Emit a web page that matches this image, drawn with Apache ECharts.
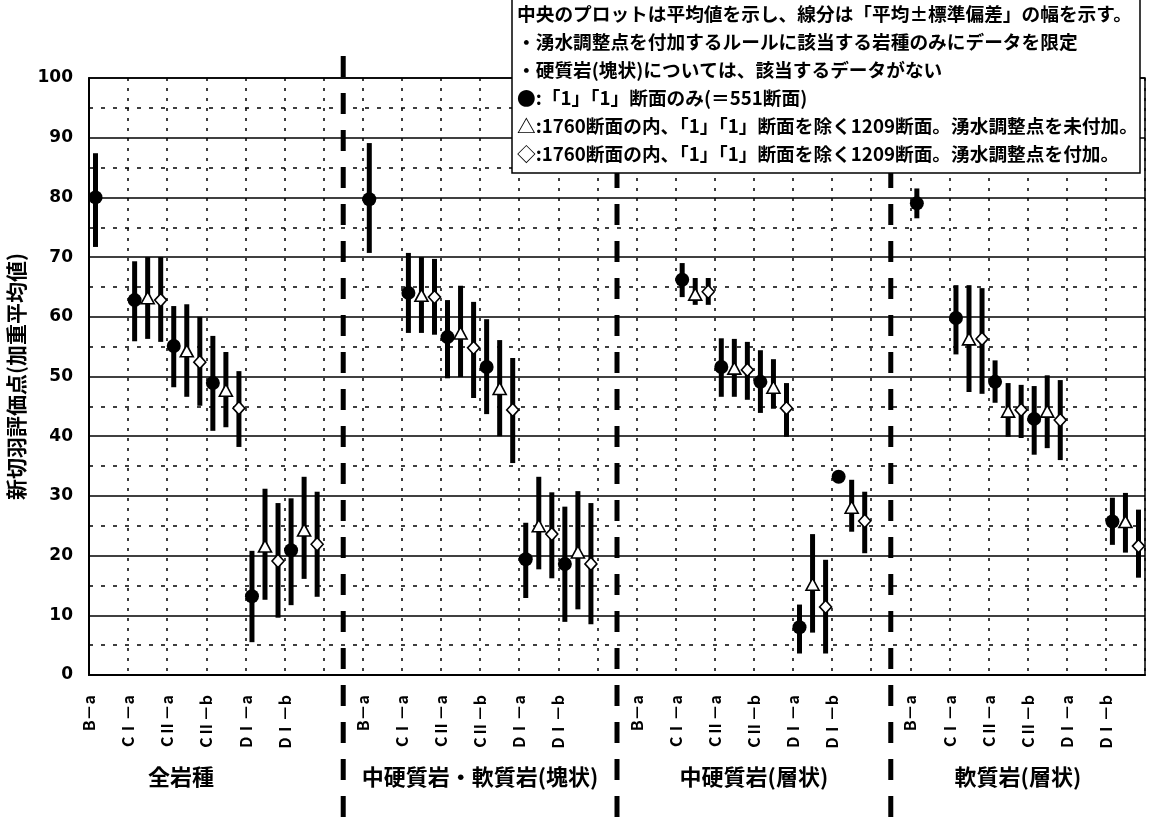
<!DOCTYPE html>
<html><head><meta charset="utf-8">
<script src="https://cdn.jsdelivr.net/npm/echarts@6/dist/echarts.min.js"></script>
<style>html,body{margin:0;padding:0;background:#fff}#c{width:1152px;height:817px}</style>
</head><body><div id="c"></div>
<script>
// ---------- data ----------
const categories = ['B－a', 'CⅠ－a', 'CⅡ－a', 'CⅡ－b', 'DⅠ－a', 'DⅠ－b'];
const groups = ['全岩種', '中硬質岩・軟質岩(塊状)', '中硬質岩(層状)', '軟質岩(層状)'];
const yAxisName = '新切羽評価点(加重平均値)';

// ● 「1」「1」断面のみ  (rows = groups, cols = categories; null = no data)
const circleMean = [
  [80.0, 62.8, 55.1, 48.9, 13.2, 20.9],
  [79.7, 64.0, 56.6, 51.6, 19.4, 18.6],
  [null, 66.2, 51.6, 49.1, 8.0, 33.2],
  [79.0, 59.8, 49.1, 42.9, null, 25.7]
];
const circleLow = [
  [71.7, 55.9, 48.2, 40.9, 5.5, 11.7],
  [70.7, 57.3, 49.7, 43.7, 12.9, 8.9],
  [null, 63.3, 46.6, 43.9, 3.6, 32.8],
  [76.5, 53.7, 45.6, 36.9, null, 21.8]
];
const circleHigh = [
  [87.4, 69.3, 61.8, 56.8, 20.8, 29.6],
  [89.1, 70.7, 62.8, 59.6, 25.5, 28.2],
  [null, 69.0, 56.4, 54.4, 11.8, 33.6],
  [81.5, 65.3, 52.7, 48.4, null, 29.7]
];
// △ 湧水調整点を未付加
const triMean = [
  [null, 63.2, 54.3, 47.7, 21.6, 24.3],
  [null, 63.6, 57.3, 48.0, 25.0, 20.6],
  [null, 63.8, 51.4, 48.2, 15.2, 28.1],
  [null, 56.3, 44.2, 44.2, null, 25.7]
];
const triLow = [
  [null, 56.3, 46.6, 41.5, 12.6, 16.1],
  [null, 57.3, 49.9, 40.0, 17.7, 11.0],
  [null, 62.0, 46.6, 44.6, 7.1, 24.0],
  [null, 47.4, 39.9, 38.0, null, 20.5]
];
const triHigh = [
  [null, 70.0, 62.1, 54.1, 31.2, 33.2],
  [null, 70.0, 65.2, 56.1, 33.2, 30.8],
  [null, 66.5, 56.3, 52.9, 23.6, 32.7],
  [null, 65.3, 48.9, 50.2, null, 30.5]
];
// ◇ 湧水調整点を付加
const diaMean = [
  [null, 62.8, 52.4, 44.7, 19.1, 21.9],
  [null, 63.3, 54.8, 44.4, 23.6, 18.6],
  [null, 64.2, 51.1, 44.7, 11.4, 25.8],
  [null, 56.3, 44.4, 42.7, null, 21.6]
];
const diaLow = [
  [null, 55.8, 45.1, 38.2, 9.6, 13.1],
  [null, 57.0, 46.4, 35.5, 16.2, 8.5],
  [null, 62.0, 46.1, 39.9, 3.6, 20.4],
  [null, 47.1, 39.7, 36.0, null, 16.3]
];
const diaHigh = [
  [null, 70.0, 60.0, 50.9, 28.8, 30.7],
  [null, 69.7, 62.5, 53.1, 30.6, 28.8],
  [null, 66.5, 55.8, 48.9, 19.3, 30.7],
  [null, 64.8, 48.6, 49.4, null, 27.7]
];
const noteLines = [
  '中央のプロットは平均値を示し、線分は「平均±標準偏差」の幅を示す。',
  '・湧水調整点を付加するルールに該当する岩種のみにデータを限定',
  '・硬質岩(塊状)については、該当するデータがない',
  '●:「1」「1」断面のみ(＝551断面)',
  '△:1760断面の内、「1」「1」断面を除く1209断面。湧水調整点を未付加。',
  '◇:1760断面の内、「1」「1」断面を除く1209断面。湧水調整点を付加。'
];

// ---------- layout ----------
const SLOTS = 7;                       // slots per group (6 categories + gap)
const xMax = groups.length * SLOTS - 1; // 27
const offsets = [1 / 6, 1 / 2, 5 / 6];  // series offset inside a slot
const groupLabelPos = [2.35, 10, 17, 23.75];
const JP = '"Noto Sans CJK JP", "Noto Sans CJK SC", sans-serif';

function build(mean, low, high, s) {
  const pts = [], bars = [];
  mean.forEach((row, g) => row.forEach((m, c) => {
    if (m == null) return;
    const x = g * SLOTS + c + offsets[s];
    pts.push([x, m]);
    bars.push([x, low[g][c], high[g][c]]);
  }));
  return { pts, bars };
}
const S = [
  build(circleMean, circleLow, circleHigh, 0),
  build(triMean, triLow, triHigh, 1),
  build(diaMean, diaLow, diaHigh, 2)
];
const markers = [
  { symbol: 'circle', size: 14, fill: '#000' },
  { symbol: 'triangle', size: [13, 12], fill: '#fff' },
  { symbol: 'diamond', size: [12, 13], fill: '#fff' }
];

function errRender(params, api) {
  const x = api.value(0);
  const p1 = api.coord([x, api.value(1)]);
  const p2 = api.coord([x, api.value(2)]);
  return { type: 'line', shape: { x1: p1[0], y1: p1[1], x2: p2[0], y2: p2[1] },
           style: { stroke: '#000', lineWidth: 5 } };
}

const series = [];
S.forEach((d, i) => {
  series.push({ type: 'custom', renderItem: errRender, data: d.bars, z: 3 + i * 2,
                encode: { x: 0, y: [1, 2] }, silent: true });
  series.push({ type: 'scatter', data: d.pts, symbol: markers[i].symbol,
                symbolSize: markers[i].size, z: 4 + i * 2, silent: true,
                itemStyle: { color: markers[i].fill, borderColor: '#000', borderWidth: i ? 1.6 : 0, opacity: 1 } });
});

const chart = echarts.init(document.getElementById('c'));
chart.setOption({
  animation: false,
  backgroundColor: '#fff',
  grid: { left: 89, right: 7, top: 78, bottom: 142, containLabel: false, outerBoundsMode: 'none',
          show: true, borderColor: '#000', borderWidth: 1.5, backgroundColor: 'transparent' },
  xAxis: {
    type: 'value', min: 0, max: xMax, interval: 1,
    axisLine: { show: true, lineStyle: { color: '#000', width: 2 } },
    axisTick: { show: false },
    splitLine: { show: true, lineStyle: { color: '#000', width: 1.5, type: [3, 7] } },
    axisLabel: {
      rotate: 90, margin: 20, color: '#000', fontFamily: JP, fontWeight: 'bold', fontSize: 16,
      formatter: v => { const g = Math.floor(v / SLOTS), c = v % SLOTS; return (g < groups.length && c < categories.length) ? categories[c] : ''; }
    }
  },
  yAxis: {
    type: 'value', min: 0, max: 100, interval: 10,
    name: yAxisName, nameLocation: 'middle', nameGap: 40, nameRotate: 90,
    nameTextStyle: { fontFamily: JP, fontWeight: 'bold', fontSize: 21, color: '#000' },
    axisLine: { show: true, lineStyle: { color: '#000', width: 2 } },
    axisTick: { show: false },
    axisLabel: { margin: 16, color: '#000', fontFamily: 'DejaVu Sans', fontWeight: 'bold', fontSize: 17 },
    splitLine: { show: true, lineStyle: { color: '#000', width: 1.6 } },
    minorTick: { show: false, splitNumber: 2 },
    minorSplitLine: { show: true, lineStyle: { color: '#000', width: 1.5, type: [4, 8] } }
  },
  series
});

// separators, group labels, note box
const g = [];
for (let k = 1; k < groups.length; k++) {
  const px = chart.convertToPixel({ xAxisIndex: 0 }, k * SLOTS - 0.5);
  g.push({ type: 'line', z: 20, shape: { x1: px, y1: 56, x2: px, y2: 830 },
           style: { stroke: '#000', lineWidth: 5, lineDash: [21, 16] } });
}
groups.forEach((name, i) => {
  const px = chart.convertToPixel({ xAxisIndex: 0 }, groupLabelPos[i]);
  g.push({ type: 'text', z: 20, x: px, y: 777,
           style: { text: name, font: 'bold 22px ' + JP, fill: '#000', textAlign: 'center', textVerticalAlign: 'middle' } });
});
g.push({ type: 'rect', z: 30, shape: { x: 512, y: -2, width: 628, height: 175 },
         style: { fill: '#fff', stroke: '#000', lineWidth: 1.5 } });
noteLines.forEach((t, i) => {
  g.push({ type: 'text', z: 31, x: 517, y: 14 + i * 28,
           style: { text: t, font: 'bold 18.7px ' + JP, fill: '#000', textAlign: 'left', textVerticalAlign: 'middle' } });
});
chart.setOption({ graphic: g });
</script>
</body></html>
